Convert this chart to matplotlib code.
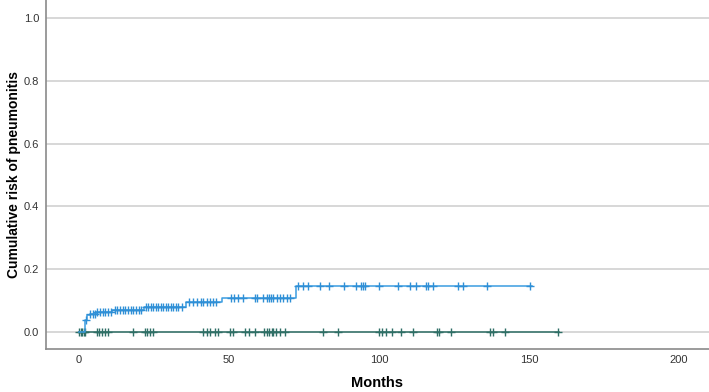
import matplotlib
matplotlib.use('Agg')
import matplotlib.pyplot as plt

plt.rcParams['font.family'] = ['Liberation Sans', 'DejaVu Sans']

# step curve for group 1 (time in months, cumulative risk)
blue_t = [0, 2, 2.5, 3.5, 5.5, 11, 21.5, 35.5, 47.5, 72.3, 151]
blue_y = [0, 0.036, 0.054, 0.058, 0.062, 0.070, 0.079, 0.095, 0.109, 0.146, 0.146]

# censored times for group 1
blue_cens = [2.2, 3.7, 4.6, 5.3, 6.1, 7, 7.9, 8.8, 9.6, 10.5,
             12, 12.8, 13.7, 14.6, 15.4, 16.3, 17.2, 18.1, 19, 19.9, 20.8,
             22.3, 23.1, 24, 24.8, 25.7, 26.4, 27.2, 28.1, 29, 29.8, 30.6, 31.4,
             32.3, 33.1, 34.2, 36.8, 38.1, 39.2, 40.6, 41.4, 42.8, 43.7, 44.6, 45.6,
             50.6, 51.8, 53.1, 54.6, 58.7, 59.4, 61.4, 62.6, 63.3, 64, 64.8, 65.9,
             67, 68.1, 69.2, 70.3, 73.1, 74.8, 76.4, 80.3, 83.3, 88.3, 92.3, 94,
             94.8, 95.3, 100.1, 106.2, 110.3, 112.2, 115.6, 116.4, 118.1, 126.2,
             128.1, 136.1, 150.3]

# group 2 has no events, line stays at zero
green_t = [0, 160]
green_y = [0, 0]
green_cens = [0, 0.5, 1, 1.5, 2, 5.9, 6.8, 7.7, 8.7, 9.6, 17.9, 22, 22.8, 23.7, 24.6,
              41.4, 42.6, 43.7, 45.3, 46.4, 50.3, 51.2, 55.3, 56.8, 58.7, 61.7, 62.6,
              63.4, 64.2, 64.8, 65.7, 67, 68.5, 81.2, 86.4, 100.1, 100.9, 102.3, 104.2,
              107.2, 111.2, 119.2, 120.1, 124, 137, 137.9, 142.1, 159.8]


def step_value(ts, ys, x):
    v = ys[0]
    for t, y in zip(ts, ys):
        if t <= x:
            v = y
    return v


fig = plt.figure(figsize=(7.09, 3.92), dpi=100)
ax = fig.add_axes([46 / 709, 43 / 392, 1 - 46 / 709, 1 - 43 / 392])

ax.set_xlim(-11, 210)
ax.set_ylim(-0.055, 1.058)

for yv in [0, 0.2, 0.4, 0.6, 0.8, 1.0]:
    ax.axhline(yv, color='#d4d4d4', lw=1.3, zorder=0)

blue = '#3b9de0'
green = '#2f6f66'

ax.step(green_t, green_y, where='post', color=green, lw=1.1, zorder=2)
ax.plot(green_cens, [step_value(green_t, green_y, c) for c in green_cens],
        ls='none', marker='+', ms=6, mew=1.0, color=green, zorder=3)

ax.step(blue_t, blue_y, where='post', color=blue, lw=1.1, zorder=4)
ax.plot(blue_cens, [step_value(blue_t, blue_y, c) for c in blue_cens],
        ls='none', marker='+', ms=6, mew=1.0, color='#2f8fd6', zorder=5)

ax.set_xticks([0, 50, 100, 150, 200])
ax.set_yticks([0, 0.2, 0.4, 0.6, 0.8, 1.0])
ax.set_yticklabels(['0.0', '0.2', '0.4', '0.6', '0.8', '1.0'])
ax.tick_params(length=0, labelsize=8, colors='#333333')
ax.tick_params(axis='x', pad=4)
ax.tick_params(axis='y', pad=5)

for s in ['top', 'right']:
    ax.spines[s].set_visible(False)
for s in ['left', 'bottom']:
    ax.spines[s].set_color('#8a8a8a')
    ax.spines[s].set_linewidth(1.2)

ax.set_xlabel('Months', fontsize=10.5, fontweight='bold', va='center')
ax.set_ylabel('Cumulative risk of pneumonitis', fontsize=10, fontweight='bold', va='center')
ax.xaxis.set_label_coords(0.5, -34 / 349)
ax.yaxis.set_label_coords(-32 / 663, 0.5)

fig.savefig('out.png', dpi=100)
